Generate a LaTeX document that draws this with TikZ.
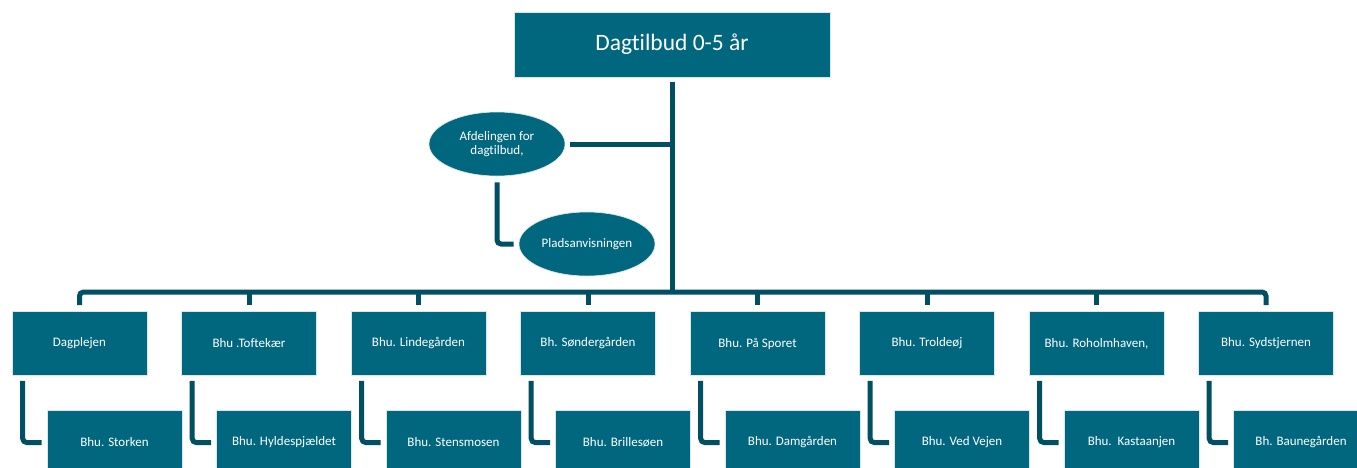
\documentclass[tikz,border=0pt]{standalone}
\usepackage{fontspec}
\setmainfont[Ligatures=NoCommon]{Carlito}
\usetikzlibrary{shapes.geometric,calc}
\definecolor{boxc}{HTML}{00677F}
\definecolor{linec}{HTML}{004F62}
\begin{document}
\begin{tikzpicture}[x=1pt,y=-1pt,
  orgbox/.style={rectangle,fill=boxc,draw=white!85!boxc,line width=0.6pt,minimum width=135pt,minimum height=64pt,inner sep=0pt,text=white,font=\fontsize{13}{15}\selectfont},
  topbox/.style={orgbox,minimum width=316pt,minimum height=65pt,font=\fontsize{23.5}{27}\selectfont},
  oval/.style={ellipse,fill=boxc,draw=white!85!boxc,line width=0.6pt,minimum width=136pt,minimum height=64pt,inner sep=0pt,text=white,align=center,font=\fontsize{13}{14.5}\selectfont},
  conn/.style={draw=linec,line width=5pt},
  rconn/.style={conn,rounded corners=4pt}]
\path[use as bounding box] (0,0) rectangle (1357,467);
\clip (0,0) rectangle (1357,467);
\node[topbox] (top) at (672,44.5) {Dagtilbud 0-5 år};
\node[oval] (afd) at (497,144) {Afdelingen for\\dagtilbud,};
\node[oval] (plads) at (587,244) {Pladsanvisningen};
\coordinate (bus) at (672,292);
\foreach \i/\t in {1/Dagplejen,2/Bhu .Toftekær,3/Bhu. Lindegården,4/Bh. Søndergården,5/Bhu. På Sporet,6/Bhu. Troldeøj,7/{Bhu. Roholmhaven,},8/Bhu. Sydstjernen}{
  \node[orgbox] (b\i) at ({79.5+169.5*(\i-1)},343.5) {\t};
}
\foreach \i/\t in {1/Bhu. Storken,2/Bhu. Hyldespjældet,3/Bhu. Stensmosen,4/Bhu. Brillesøen,5/Bhu. Damgården,6/Bhu. Ved Vejen,7/Bhu.~~Kastaanjen,8/Bh. Baunegården}{
  \node[orgbox] (c\i) at ({114.5+169.5*(\i-1)},442.5) {\t};
}
% trunk
\draw[conn] ([yshift=-5pt]top.south) -- (bus);
\draw[conn] ([xshift=5pt]afd.east) -- (afd.east -| bus);
\draw[rconn] ([yshift=-6pt]afd.south) |- ([xshift=-5pt]plads.west);
% bus
\draw[rconn] ([yshift=6pt]b1.north) |- (bus) -| ([yshift=6pt]b8.north);
\foreach \i in {2,...,7}{
  \draw[conn] (b\i.north |- bus) -- ([yshift=6pt]b\i.north);
}
\foreach \i in {1,...,8}{
  \draw[rconn] ([shift={(11pt,-5pt)}]b\i.south west) |- ([xshift=-5pt]c\i.west);
}
\end{tikzpicture}
\end{document}
